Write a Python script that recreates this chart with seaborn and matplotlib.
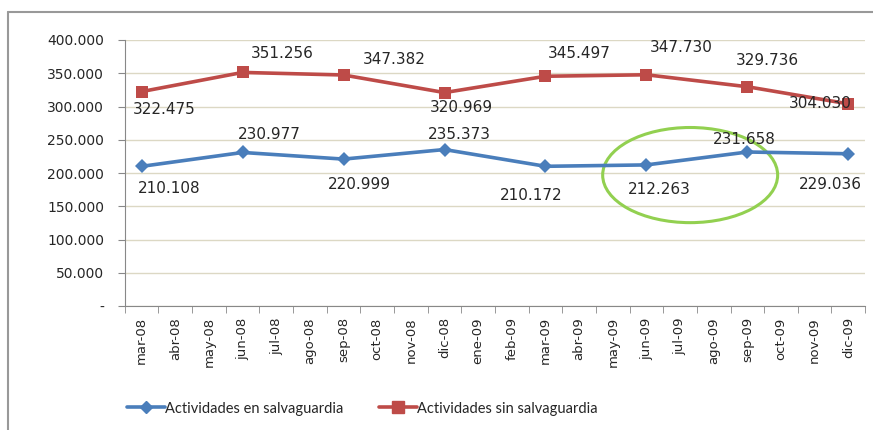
import pandas as pd
import seaborn as sns
import matplotlib.pyplot as plt
from matplotlib import font_manager
from matplotlib.patches import Ellipse
from matplotlib.lines import Line2D
from matplotlib.ticker import FuncFormatter, FixedLocator

# Axis categories (monthly) and the quarterly observations
months = ["mar-08", "abr-08", "may-08", "jun-08", "jul-08", "ago-08", "sep-08",
          "oct-08", "nov-08", "dic-08", "ene-09", "feb-09", "mar-09", "abr-09",
          "may-09", "jun-09", "jul-09", "ago-09", "sep-09", "oct-09", "nov-09", "dic-09"]
obs_months = ["mar-08", "jun-08", "sep-08", "dic-08", "mar-09", "jun-09", "sep-09", "dic-09"]
en_salvaguardia = [210108, 230977, 220999, 235373, 210172, 212263, 231658, 229036]
sin_salvaguardia = [322475, 351256, 347382, 320969, 345497, 347730, 329736, 304030]

# label offsets in pixels (dx, dy) relative to each point
off_en = [(28, -22), (27, 18), (16, -25), (15, 15), (-14, -29), (13, -25), (-3, 13), (-18, -31)]
off_sin = [(23, -18), (40, 19), (51, 16), (17, -15), (34, 23), (35, 27), (20, 26), (-28, 0)]

df = pd.DataFrame({
    "pos": [months.index(m) for m in obs_months] * 2,
    "valor": en_salvaguardia + sin_salvaguardia,
    "serie": ["Actividades en salvaguardia"] * 8 + ["Actividades sin salvaguardia"] * 8,
})

sns.set_style("white")
plt.rcParams["font.family"] = ["DejaVu Sans"]

names = {f.name for f in font_manager.fontManager.ttflist}
legend_font = "Liberation Sans Narrow" if "Liberation Sans Narrow" in names else "Lato"

fig = plt.figure(figsize=(8.73, 4.30), dpi=100)
ax = fig.add_axes([0.143, 0.288, 0.848, 0.619])

blue = "#4a7ebb"
red = "#be4b48"
sns.lineplot(data=df, x="pos", y="valor", hue="serie", style="serie",
             markers={"Actividades en salvaguardia": "D", "Actividades sin salvaguardia": "s"},
             dashes=False, palette=[blue, red], linewidth=2.6, markersize=9,
             markeredgewidth=0, ax=ax, legend=False)
# smaller diamond for blue series
ax.lines[0].set_markersize(7.5)

for x, v, (dx, dy) in zip(df["pos"][:8], en_salvaguardia, off_en):
    ax.annotate(f"{v:,}".replace(",", "."), (x, v), xytext=(dx, dy),
                textcoords="offset pixels", ha="center", va="center", fontsize=11)
for x, v, (dx, dy) in zip(df["pos"][8:], sin_salvaguardia, off_sin):
    ax.annotate(f"{v:,}".replace(",", "."), (x, v), xytext=(dx, dy),
                textcoords="offset pixels", ha="center", va="center", fontsize=11)

ax.set_xlim(-0.5, len(months) - 0.5)
ax.set_ylim(0, 400000)
ax.set_yticks(range(0, 400001, 50000))
ax.yaxis.set_major_formatter(FuncFormatter(lambda v, p: "-" if v == 0 else f"{int(v):,}".replace(",", ".")))
ax.set_xticks(range(len(months)))
ax.set_xticklabels(months, rotation=90, fontsize=9.5)
ax.xaxis.set_minor_locator(FixedLocator([i - 0.5 for i in range(len(months) + 1)]))
ax.tick_params(axis="x", which="major", length=0, pad=8)
ax.tick_params(axis="x", which="minor", length=5, color="#888888", bottom=True)
ax.tick_params(axis="y", length=5, color="#888888", left=True, labelsize=10, pad=10)
ax.set_xlabel("")
ax.set_ylabel("")
ax.grid(axis="y", color="#dcd8c4", linewidth=1)
for s in ["top", "right"]:
    ax.spines[s].set_visible(False)
for s in ["left", "bottom"]:
    ax.spines[s].set_color("#888888")

ax.add_patch(Ellipse((16.3, 197000), 5.2, 143000, fill=False, edgecolor="#92d050", linewidth=2.2))

handles = [Line2D([], [], color=blue, marker="D", markersize=6, linewidth=2.6),
           Line2D([], [], color=red, marker="s", markersize=8, linewidth=2.6)]
fig.legend(handles, ["Actividades en salvaguardia", "Actividades sin salvaguardia"],
           loc="center", bbox_to_anchor=(0.415, 0.05), ncol=2, frameon=False,
           prop={"family": legend_font, "size": 10.5}, handlelength=2.6, handletextpad=0.05,
           columnspacing=2.4)

fig.add_artist(Line2D([8 / 873, 8 / 873], [0, 1 - 12 / 430], color="#999999", linewidth=1.5))
fig.add_artist(Line2D([8 / 873, 1], [1 - 12 / 430, 1 - 12 / 430], color="#999999", linewidth=1.5))

fig.savefig("out.png", dpi=100)
